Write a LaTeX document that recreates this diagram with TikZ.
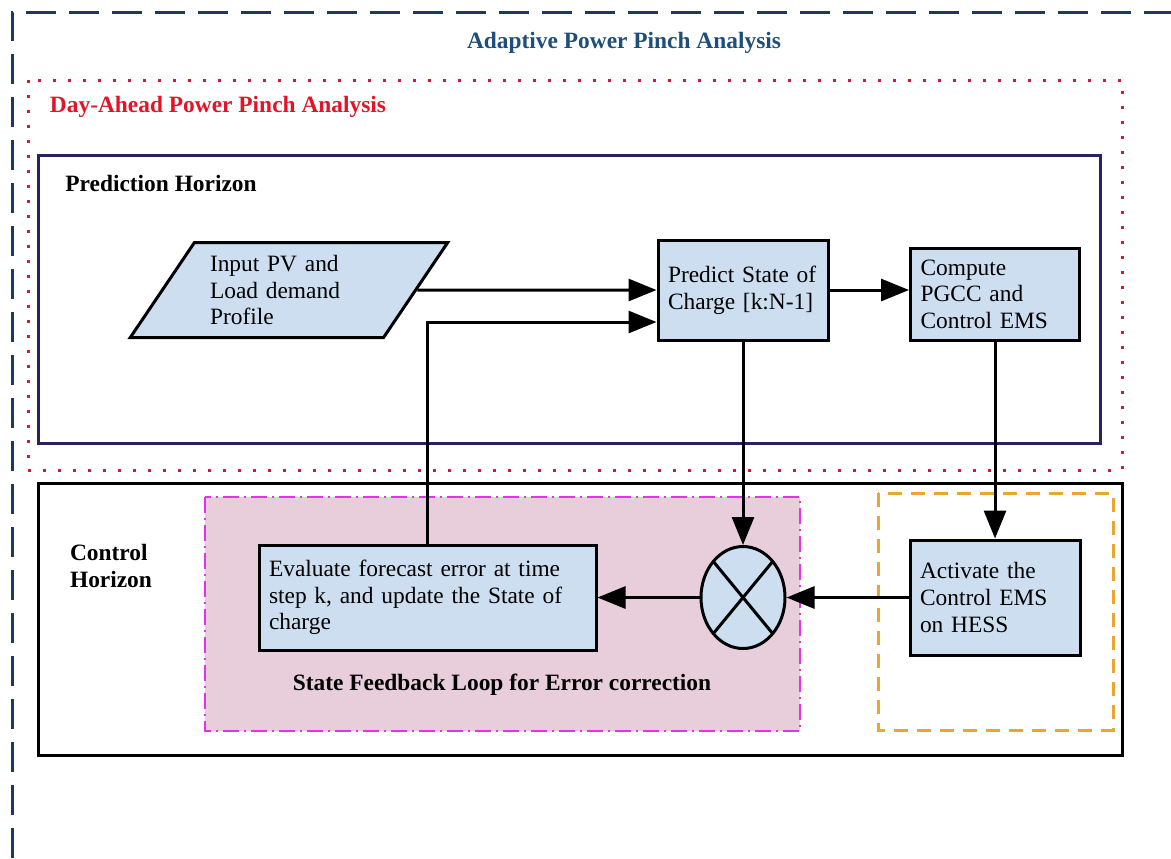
\documentclass[tikz,border=0pt]{standalone}
\usepackage{fontspec}
\setmainfont{Liberation Serif}
\usetikzlibrary{shapes.geometric,arrows.meta}
\definecolor{boxblue}{RGB}{204,222,240}
\definecolor{titleblue}{RGB}{31,78,121}
\definecolor{dayred}{RGB}{225,20,40}
\definecolor{dotred}{RGB}{200,30,60}
\definecolor{predframe}{RGB}{45,32,96}
\definecolor{loopfill}{RGB}{232,206,218}
\definecolor{loopframe}{RGB}{230,50,230}
\definecolor{hessorange}{RGB}{235,165,50}
\definecolor{outerblue}{RGB}{28,58,92}
\begin{document}
\begin{tikzpicture}[x=0.5pt, y=-0.5pt, thick, font=\fontsize{11.7}{13.3}\selectfont]
\tikzstyle{block}=[draw,fill=boxblue,line width=1.5pt,align=left,inner xsep=5pt,inner ysep=0pt]
\tikzstyle{heading}=[font=\fontsize{11.7}{13.3}\selectfont\bfseries]
\tikzstyle{flow}=[line width=1.5pt,-{Triangle[length=14pt,width=11pt]}]
\useasboundingbox (0,0) rectangle (1171,858);
  % frames
  \draw[outerblue,line width=1.5pt,dash pattern=on 15pt off 6.5pt] (12,858) -- (12,12) -- (1171,12);
  \draw[dotred,line width=1.5pt,dash pattern=on 1.5pt off 6pt] (28,80) rectangle (1122,470);
  \draw[predframe,line width=1.5pt] (38,155) rectangle (1100,443);
  \draw[line width=1.5pt] (38,483) rectangle (1122,755);
  \draw[loopframe,fill=loopfill,line width=1.2pt,dash pattern=on 8pt off 2.5pt on 1pt off 2.5pt] (205,497) rectangle (800,731);
  \draw[hessorange,line width=1.5pt,dash pattern=on 7pt off 4.5pt] (878,493) rectangle (1113,730);
  % titles
  \node[heading,text=titleblue] (title) at (624,43) {Adaptive Power Pinch Analysis};
  \node[heading,text=dayred] (dayahead) at (218,107) {Day-Ahead Power Pinch Analysis};
  \node[heading] (predhor) at (161,183) {Prediction Horizon};
  \node[heading,align=left] (ctrlhor) at (111,566) {Control\\Horizon};
  \node[heading] (looptitle) at (502,685) {State Feedback Loop for Error correction};
  % process blocks
  \node[draw,trapezium,trapezium left angle=55,trapezium right angle=125,trapezium stretches=true,
        minimum width=159pt,minimum height=47.5pt,fill=boxblue,line width=1.5pt,text width=79pt,align=left]
        (input) at (289,290) {Input PV and\\Load demand\\Profile};
  \foreach \place/\name/\tw/\bh/\txt in {{(743,290)/predict/75pt/50pt/{Predict State of\\Charge [k:N-1]}},
                                         {(995,294)/compute/74.5pt/46pt/{Compute\\PGCC and\\Control EMS}},
                                         {(427.5,597.5)/evaluate/158.5pt/52.5pt/{Evaluate forecast error at time\\step k, and update the State of\\charge}},
                                         {(995,597.5)/activate/75pt/57.5pt/{Activate the\\Control EMS\\on HESS}}}
    \node[block,text width=\tw,minimum height=\bh] (\name) at \place {\txt};
  \node[draw,ellipse,fill=boxblue,line width=1.5pt,minimum width=42pt,minimum height=51pt,
        path picture={\draw[line width=1.5pt] (path picture bounding box.north west) -- (path picture bounding box.south east)
                      (path picture bounding box.north east) -- (path picture bounding box.south west);}]
        (xnode) at (743,597.5) {};
  % connectors
  \foreach \source/\dest in {input/predict,predict/xnode,compute/activate,activate/xnode,xnode/evaluate}
      \path (\source) edge[flow] (\dest);
  \draw[flow] (predict.east) -- (predict.east -| compute.west);
  \draw[flow] (evaluate.north) |- ([yshift=-16pt]predict.west);
\end{tikzpicture}
\end{document}
